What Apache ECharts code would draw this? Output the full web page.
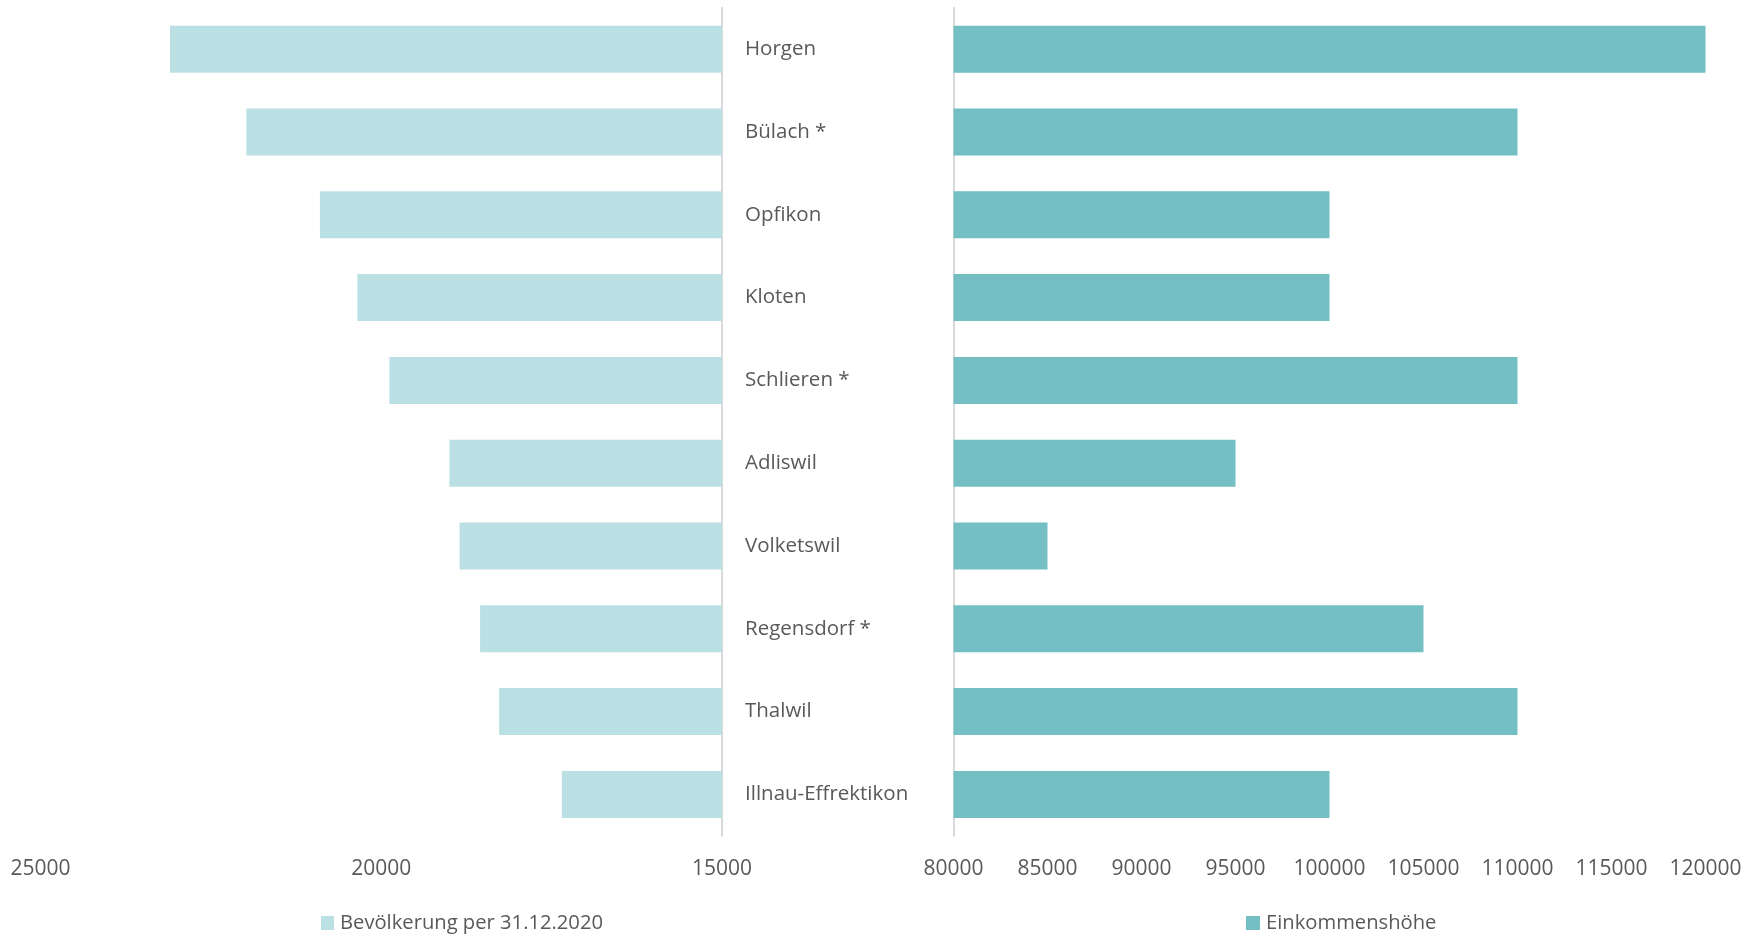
<!DOCTYPE html>
<html>
<head>
<meta charset="utf-8">
<script src="https://cdn.jsdelivr.net/npm/echarts@6/dist/echarts.min.js"></script>
<style>
html,body{margin:0;padding:0;background:#fff;}
#chart{width:1761px;height:935px;}
</style>
</head>
<body>
<div id="chart"></div>
<script>
const categories = ["Horgen", "Bülach *", "Opfikon", "Kloten", "Schlieren *", "Adliswil", "Volketswil", "Regensdorf *", "Thalwil", "Illnau-Effrektikon"];
const population = [23100, 21980, 20900, 20350, 19880, 19000, 18850, 18550, 18270, 17350];
const income = [120000, 110000, 100000, 100000, 110000, 95000, 85000, 105000, 110000, 100000];
const popName = "Bevölkerung per 31.12.2020";
const incName = "Einkommenshöhe";

const textColor = "#595959";
const axisColor = "#D9D9D9";
const tickFont = "'Open Sans', sans-serif";
const catFont = "'Open Sans', sans-serif";

const chart = echarts.init(document.getElementById('chart'), null, {renderer: 'canvas'});
chart.setOption({
  animation: false,
  backgroundColor: '#ffffff',
  grid: [
    {left: 40.5, width: 681.5, top: 7.8, height: 828},
    {left: 953.5, width: 752, top: 7.8, height: 828}
  ],
  legend: [
    {data: [popName], left: 316, top: 908, icon: 'rect', itemWidth: 13, itemHeight: 14, itemGap: 6,
     textStyle: {color: textColor, fontSize: 20.2, fontFamily: tickFont, padding: [0,0,0,1]}},
    {data: [incName], left: 1241, top: 908, icon: 'rect', itemWidth: 14, itemHeight: 14, itemGap: 6,
     textStyle: {color: textColor, fontSize: 20.2, fontFamily: tickFont, padding: [0,0,0,1]}}
  ],
  xAxis: [
    {type: 'value', gridIndex: 0, min: 15000, max: 25000, interval: 5000, inverse: true, startValue: 15000,
     splitLine: {show: false}, axisLine: {show: false}, axisTick: {show: false},
     axisLabel: {color: textColor, fontSize: 21, fontFamily: tickFont, margin: 23, lineHeight: 21,
                 formatter: v => String(v)}},
    {type: 'value', gridIndex: 1, min: 80000, max: 120000, interval: 5000, startValue: 80000,
     splitLine: {show: false}, axisLine: {show: false}, axisTick: {show: false},
     axisLabel: {color: textColor, fontSize: 21, fontFamily: tickFont, margin: 23, lineHeight: 21,
                 formatter: v => String(v)}}
  ],
  yAxis: [
    {type: 'category', gridIndex: 0, data: categories, inverse: true, position: 'right',
     axisLine: {show: true, lineStyle: {color: axisColor, width: 2}}, axisTick: {show: false},
     axisLabel: {color: textColor, fontSize: 20.5, fontFamily: catFont, margin: 23, align: 'left', padding: [4,0,0,0]}},
    {type: 'category', gridIndex: 1, data: categories, inverse: true, position: 'left',
     axisLine: {show: true, lineStyle: {color: axisColor, width: 2}}, axisTick: {show: false},
     axisLabel: {show: false}}
  ],
  series: [
    {name: popName, type: 'bar', xAxisIndex: 0, yAxisIndex: 0, data: population, barWidth: 47, clip: true,
     itemStyle: {color: '#BBE0E3'}},
    {name: incName, type: 'bar', xAxisIndex: 1, yAxisIndex: 1, data: income, barWidth: 47, clip: true,
     itemStyle: {color: '#73BFC4'}}
  ]
});
</script>
</body>
</html>
